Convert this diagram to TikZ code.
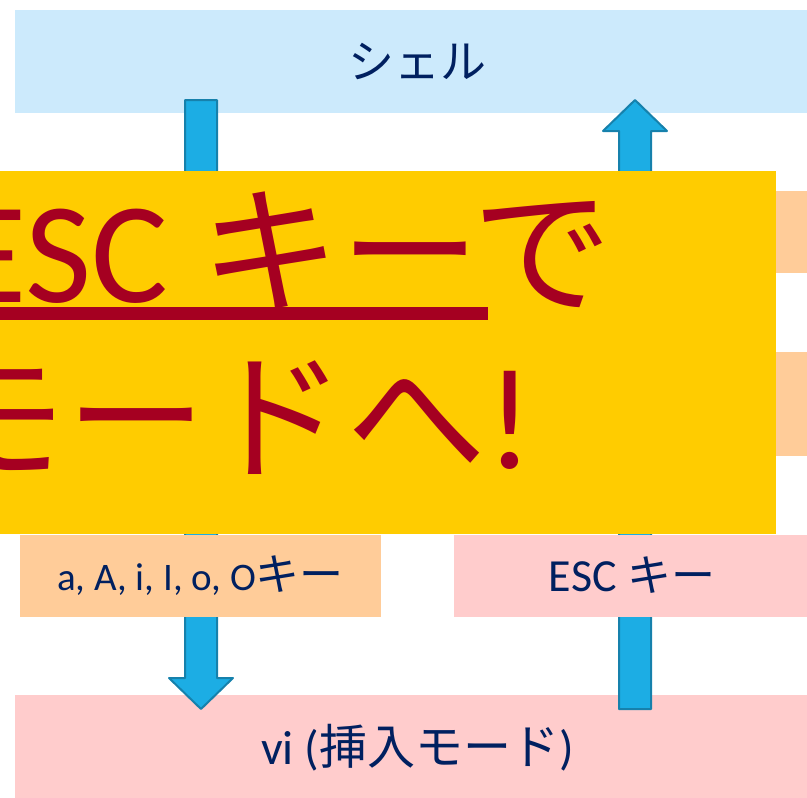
\documentclass[tikz,border=0pt]{standalone}
\usepackage{fontspec}
\setmainfont{Carlito}
\newfontfamily\jp{Noto Sans CJK JP}
\usetikzlibrary{calc,positioning}

\definecolor{navy}{HTML}{002060}
\definecolor{shellblue}{HTML}{CCEAFC}
\definecolor{peach}{HTML}{FFCC99}
\definecolor{rose}{HTML}{FFCCCC}
\definecolor{banner}{HTML}{FFCC00}
\definecolor{wine}{HTML}{A50021}
\definecolor{arrowfill}{HTML}{1CADE4}
\definecolor{arrowline}{HTML}{1681AC}

\newcommand{\blockarrow}[2]{%
	\coordinate (hb) at ($(#2)!31pt!(#1)$);
	\draw[block arrow] ($(#1)!16pt!90:(#2)$) -- ($(hb)!16pt!-90:(#1)$) -- ($(hb)!32pt!-90:(#1)$)
		-- (#2) -- ($(hb)!32pt!90:(#1)$) -- ($(hb)!16pt!90:(#1)$) -- ($(#1)!16pt!-90:(#2)$) -- cycle;}

\begin{document}
\begin{tikzpicture}[x=1pt,y=-1pt,
				bar/.style = {rectangle, inner sep = 0pt, text=navy, minimum width = 805pt},
				key node/.style = {rectangle, inner sep = 0pt, text=navy, minimum height = 82pt},
				block arrow/.style = {fill=arrowfill, draw=arrowline, line width=2pt, line join=round}]
				\useasboundingbox (0,0) rectangle (807,798);
				\clip (0,0) rectangle (807,798);
				
				\node[bar,fill=shellblue,minimum height = 103pt] (shell) at (417.5,61.5) {\jp\fontsize{46}{50}\selectfont シェル};
				\node[bar,fill=rose,minimum height = 105pt] (vi) at (417.5,747.5) {\fontsize{48}{52}\selectfont vi ({\jp 挿入モード})};
				
				\coordinate (down start) at (201,100);
				\coordinate (down end) at (201,709);
				\coordinate (up start) at (635,709);
				\coordinate (up end) at (635,100);
				\blockarrow{down start}{down end}
				\blockarrow{up start}{up end}
				
				\node[key node,fill=peach,minimum width = 361pt] (insert key) at (200.5,576) {\fontsize{39}{44}\selectfont a, A, i, I, o, O{\jp\fontsize{44}{48}\selectfont キー}};
				\node[key node,fill=rose,minimum width = 356pt] (esc key) at (632,575.5) {\fontsize{46}{50}\selectfont ESC {\jp\fontsize{44}{48}\selectfont キー}};
				\node[key node,fill=peach,minimum width = 366pt] (hidden a) at (637,232) {};
				\node[key node,fill=peach,minimum width = 366pt,minimum height = 104pt] (hidden b) at (637,404) {};
				
				\node[rectangle,fill=banner,minimum width = 786pt,minimum height = 363pt,inner sep = 0pt] (banner) at (382.5,352.5) {};
				\node[anchor=base west,inner sep = 0pt,text=wine] (line one) at (-44,302) {\fontsize{144}{150}\selectfont ESC {\jp\fontsize{140}{150}\selectfont キーで}};
				\node[anchor=base west,inner sep = 0pt,text=wine] (line two) at (-74,468) {\fontsize{144}{150}\selectfont{\jp\fontsize{140}{150}\selectfont モードへ}!};
				\fill[wine] (-10,307) rectangle (488,320);
				\end{tikzpicture}
\end{document}
